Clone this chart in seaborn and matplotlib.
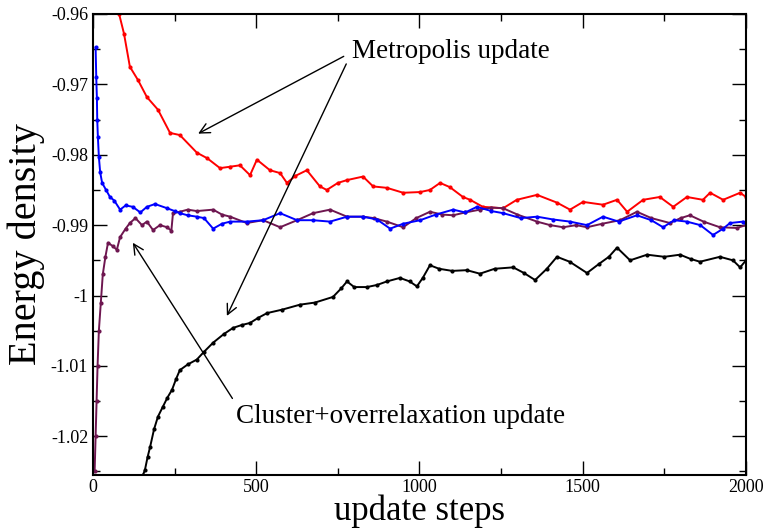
import matplotlib
matplotlib.use('Agg')
import matplotlib.pyplot as plt
from matplotlib.ticker import MultipleLocator, FormatStrFormatter
import seaborn as sns
import pandas as pd

# Metropolis update, hot start (red)
red_steps = [80, 95, 113, 138, 165, 199, 236, 266, 318, 350, 389, 420, 450, 481, 502,
             542, 573, 594, 620, 655, 695, 716, 750, 778, 827, 858, 900, 950, 1002,
             1032, 1063, 1093, 1133, 1155, 1194, 1256, 1298, 1360, 1421, 1461, 1501,
             1562, 1605, 1636, 1685, 1736, 1777, 1819, 1868, 1890, 1930, 1982, 2000]
red_vals = [-0.9600, -0.9628, -0.9675, -0.9694, -0.9718, -0.9736, -0.9769, -0.9772,
            -0.9797, -0.9805, -0.9819, -0.9817, -0.9815, -0.9829, -0.9807, -0.9822,
            -0.9826, -0.9840, -0.9830, -0.9822, -0.9845, -0.9850, -0.9840, -0.9836,
            -0.9831, -0.9845, -0.9847, -0.9854, -0.9853, -0.9850, -0.9840, -0.9846,
            -0.9860, -0.9864, -0.9874, -0.9876, -0.9864, -0.9857, -0.9868, -0.9878,
            -0.9867, -0.9871, -0.9864, -0.9881, -0.9864, -0.9860, -0.9874, -0.9860,
            -0.9864, -0.9854, -0.9864, -0.9854, -0.9860]

# Metropolis update, cold start (black)
black_steps = [153, 159, 167, 175, 187, 199, 214, 228, 242, 255, 266, 290, 318, 340,
               368, 400, 429, 455, 481, 505, 533, 580, 634, 680, 735, 760, 778, 800,
               839, 870, 900, 940, 970, 992, 1010, 1032, 1060, 1100, 1145, 1185, 1230,
               1287, 1320, 1354, 1390, 1421, 1460, 1513, 1550, 1580, 1605, 1645, 1697,
               1750, 1798, 1830, 1859, 1920, 1960, 1982, 2000]
black_vals = [-1.0255, -1.0248, -1.0230, -1.0215, -1.0190, -1.0172, -1.0158, -1.0145,
              -1.0134, -1.0118, -1.0106, -1.0098, -1.0091, -1.0080, -1.0067, -1.0055,
              -1.0046, -1.0042, -1.0039, -1.0032, -1.0025, -1.0020, -1.0013, -1.0010,
              -1.0002, -0.9990, -0.9980, -0.9988, -0.9988, -0.9985, -0.9980, -0.9975,
              -0.9980, -0.9987, -0.9975, -0.9957, -0.9962, -0.9965, -0.9964, -0.9969,
              -0.9962, -0.9960, -0.9968, -0.9978, -0.9962, -0.9945, -0.9952, -0.9968,
              -0.9955, -0.9945, -0.9932, -0.9950, -0.9942, -0.9945, -0.9942, -0.9948,
              -0.9952, -0.9945, -0.9950, -0.9960, -0.9950]

# Cluster+overrelaxation update, hot start (blue)
blue_steps = [8, 10, 12, 13, 15, 18, 22, 28, 40, 52, 65, 83, 100, 122, 145, 165, 190,
              227, 250, 266, 290, 318, 340, 368, 395, 420, 471, 521, 573, 625, 674, 726,
              778, 827, 870, 910, 950, 1002, 1050, 1103, 1140, 1176, 1220, 1256, 1310,
              1360, 1410, 1461, 1513, 1562, 1610, 1666, 1710, 1746, 1780, 1819, 1860,
              1899, 1930, 1951, 1991, 2000]
blue_vals = [-0.9647, -0.9690, -0.9720, -0.9750, -0.9775, -0.9803, -0.9825, -0.9840,
             -0.9850, -0.9860, -0.9865, -0.9878, -0.9872, -0.9874, -0.9882, -0.9874,
             -0.9870, -0.9876, -0.9880, -0.9883, -0.9886, -0.9888, -0.9890, -0.9905,
             -0.9898, -0.9895, -0.9895, -0.9893, -0.9883, -0.9893, -0.9893, -0.9895,
             -0.9888, -0.9888, -0.9892, -0.9905, -0.9898, -0.9893, -0.9885, -0.9878,
             -0.9882, -0.9874, -0.9880, -0.9883, -0.9890, -0.9888, -0.9892, -0.9895,
             -0.9900, -0.9888, -0.9895, -0.9886, -0.9893, -0.9903, -0.9893, -0.9895,
             -0.9900, -0.9914, -0.9905, -0.9897, -0.9895, -0.9897]

# Cluster+overrelaxation update, cold start (maroon)
maroon_steps = [5, 8, 11, 14, 18, 24, 30, 38, 46, 61, 73, 83, 100, 113, 130, 150, 165,
                184, 205, 227, 240, 245, 266, 290, 318, 368, 395, 420, 471, 521, 573,
                625, 674, 726, 778, 827, 860, 900, 950, 990, 1032, 1070, 1103, 1140,
                1185, 1220, 1256, 1300, 1360, 1400, 1440, 1480, 1513, 1560, 1614, 1666,
                1710, 1767, 1800, 1828, 1870, 1920, 1972, 2000]
maroon_vals = [-1.0250, -1.0200, -1.0150, -1.0100, -1.0050, -1.0010, -0.9970, -0.9945,
               -0.9925, -0.9930, -0.9935, -0.9917, -0.9905, -0.9897, -0.9890, -0.9900,
               -0.9895, -0.9907, -0.9900, -0.9903, -0.9908, -0.9883, -0.9881, -0.9878,
               -0.9880, -0.9878, -0.9885, -0.9888, -0.9897, -0.9893, -0.9903, -0.9893,
               -0.9883, -0.9878, -0.9888, -0.9888, -0.9890, -0.9895, -0.9903, -0.9890,
               -0.9881, -0.9885, -0.9886, -0.9882, -0.9878, -0.9875, -0.9876, -0.9885,
               -0.9895, -0.9900, -0.9903, -0.9900, -0.9903, -0.9898, -0.9893, -0.9881,
               -0.9890, -0.9897, -0.9890, -0.9886, -0.9895, -0.9903, -0.9904, -0.9900]

series = [
    (red_steps, red_vals, '#ff0000'),
    (black_steps, black_vals, '#000000'),
    (maroon_steps, maroon_vals, '#6e1650'),
    (blue_steps, blue_vals, '#0000ff'),
]

sns.set_theme(style='ticks')
plt.rcParams['font.family'] = ['Liberation Serif', 'DejaVu Serif']
plt.rcParams['text.color'] = 'black'
plt.rcParams['axes.labelcolor'] = 'black'

fig = plt.figure(figsize=(7.66, 5.30), dpi=100)
ax = fig.add_axes([0.1214, 0.1038, 0.8525, 0.8698])

for steps, vals, color in series:
    df = pd.DataFrame({'step': steps, 'energy': vals})
    sns.lineplot(data=df, x='step', y='energy', color=color, ax=ax, sort=False,
                 linewidth=1.4, marker='o', markersize=3, markeredgewidth=0,
                 legend=False)

ax.set_xlim(0, 2000)
ax.set_ylim(-1.0255, -0.96)
ax.xaxis.set_major_locator(MultipleLocator(500))
ax.xaxis.set_minor_locator(MultipleLocator(250))
ax.yaxis.set_major_locator(MultipleLocator(0.01))
ax.yaxis.set_minor_locator(MultipleLocator(0.005))
ax.yaxis.set_major_formatter(FormatStrFormatter('%g'))
ax.tick_params(which='both', direction='in', top=True, right=True, labelsize=13,
               color='black', labelcolor='black')
ax.tick_params(which='major', length=10, width=1)
ax.tick_params(which='minor', length=5, width=1)
ax.tick_params(axis='x', pad=3)
for sp in ax.spines.values():
    sp.set_linewidth(1.5)
    sp.set_color('black')

ax.set_xlabel('update steps', fontsize=25, labelpad=-1)
ax.set_ylabel('Energy density', fontsize=29, labelpad=4)

arrow_m = dict(arrowstyle='->', color='black', lw=1, mutation_scale=18,
               shrinkA=4, shrinkB=0, relpos=(0, 0.5))
ax.annotate('Metropolis update', xy=(322, -0.9770), xytext=(793, -0.9654),
            fontsize=19.5, va='center', ha='left', arrowprops=arrow_m)
ax.annotate('Metropolis update', xy=(410, -1.0029), xytext=(793, -0.9654),
            fontsize=19.5, va='center', ha='left', alpha=0, arrowprops=arrow_m)
arrow_c = dict(arrowstyle='->', color='black', lw=1, mutation_scale=18,
               shrinkA=2, shrinkB=0, relpos=(0, 1))
ax.annotate('Cluster+overrelaxation update', xy=(122, -0.9925), xytext=(438, -1.0172),
            fontsize=19.5, va='center', ha='left', arrowprops=arrow_c)

fig.savefig('out.png', dpi=100)
